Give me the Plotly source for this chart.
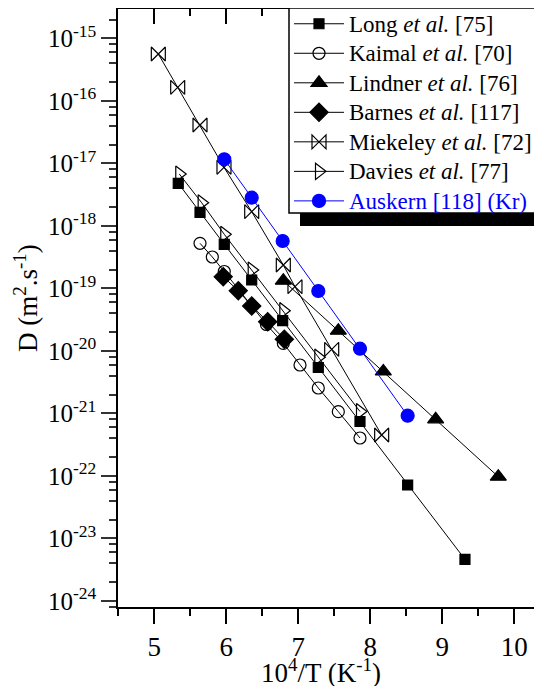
import plotly.graph_objects as go

# ---- data (x = 10^4/T, y = D in m^2/s) ----
long_x = [5.333, 5.635, 5.972, 6.353, 6.783, 7.278, 7.857, 8.519, 9.315]
long_y = [4.79e-18, 1.644e-18, 5.06e-19, 1.358e-19, 3.03e-20, 5.41e-21, 7.40e-22, 7.13e-23, 4.61e-24]

kaimal_x = [5.635, 5.806, 5.972, 6.558, 6.792, 7.024, 7.278, 7.556, 7.857]
kaimal_y = [5.25e-19, 3.17e-19, 1.858e-19, 2.64e-20, 1.318e-20, 5.93e-21, 2.54e-21, 1.062e-21, 4.03e-22]

lindner_x = [6.792, 7.556, 8.181, 8.908, 9.778]
lindner_y = [1.324e-19, 2.10e-20, 4.67e-21, 8.02e-22, 9.68e-23]

barnes_x = [5.958, 6.167, 6.353, 6.575, 6.806]
barnes_y = [1.535e-19, 9.16e-20, 5.21e-20, 2.92e-20, 1.528e-20]

miek_x = [5.056, 5.325, 5.635, 5.968, 6.353, 6.792, 6.954, 7.464, 8.158]
miek_y = [5.61e-16, 1.644e-16, 4.10e-17, 8.63e-18, 1.683e-18, 2.36e-19, 1.062e-19, 1.057e-20, 4.50e-22]

davies_x = [5.347, 5.658, 5.972, 6.353, 6.792, 7.278, 7.857]
davies_y = [6.75e-18, 2.34e-18, 7.31e-19, 1.963e-19, 4.39e-20, 7.91e-21, 1.069e-21]

ausk_x = [5.972, 6.353, 6.783, 7.278, 7.857, 8.519]
ausk_y = [1.159e-17, 2.82e-18, 5.71e-19, 9.06e-20, 1.081e-20, 9.16e-22]

x_ticks = [5, 6, 7, 8, 9, 10]
y_exps = list(range(-15, -25, -1))

FONT = "Liberation Serif"
BLUE = "#0000FF"

fig = go.Figure()

def label(txt, color="black"):
    return "<span style='font-size:23px;color:%s'>%s</span>" % (color, txt)

def add(name, xs, ys, symbol, size, color="black", lw=1.0):
    fig.add_trace(go.Scatter(
        x=xs, y=ys, mode="lines+markers", name=name,
        line=dict(color=color, width=lw),
        marker=dict(symbol=symbol, size=size, color=color,
                    line=dict(color=color, width=1.2)),
    ))

add(label("Long <i>et al.</i> [75]"), long_x, long_y, "square", 10)
add(label("Kaimal <i>et al.</i> [70]"), kaimal_x, kaimal_y, "circle-open", 12)
add(label("Lindner <i>et al.</i> [76]"), lindner_x, lindner_y, "triangle-up", 14)
add(label("Barnes <i>et al.</i> [117]"), barnes_x, barnes_y, "diamond", 14)
add(label("Miekeley <i>et al.</i> [72]"), miek_x, miek_y, "bowtie-open", 14)
add(label("Davies <i>et al.</i> [77]"), davies_x, davies_y, "triangle-right-open", 14)
add(label("Auskern [118] (Kr)", BLUE), ausk_x, ausk_y, "circle", 13, color=BLUE)

# page geometry (the page body adds an 8 px margin around the figure)
PAGE_W, PAGE_H, OFF = 542, 686, 8
W, H = PAGE_W - OFF, PAGE_H - OFF
PL, PT, PR, PB = 118, 9, 542, 607          # plot area in page pixels
L, T, R, B = PL - OFF, PT - OFF, OFF + W - PR, OFF + H - PB
pw, ph = PR - PL, PB - PT

def px(xp):
    return (xp - PL) / pw

def py(yp):
    return (PB - yp) / ph

xr = [4.496, 10.385]
yr = [-24.099, -14.531]

y_major = [10.0 ** e for e in y_exps]
y_minor = [m * 10.0 ** e for e in range(-25, -13) for m in (2, 4, 6, 8)]
y_text = ["10<sup>%d</sup>" % e for e in y_exps]
x_minor = [4.5 + i for i in range(7)]

fig.update_layout(
    width=W, height=H,
    margin=dict(l=L, r=R, t=T, b=B, pad=0, autoexpand=False),
    paper_bgcolor="white", plot_bgcolor="white",
    font=dict(family=FONT, color="black"),
    showlegend=True,
    legend=dict(
        x=px(289), y=py(4), xanchor="left", yanchor="top",
        bgcolor="rgba(0,0,0,0)", borderwidth=0,
        font=dict(family=FONT, size=20.4, color="black"),
        itemwidth=50,
    ),
    xaxis=dict(
        range=xr, showgrid=False, zeroline=False, automargin=False,
        showline=True, linecolor="black", linewidth=1.5,
        ticks="outside", ticklen=15, tickwidth=1.5, tickcolor="black",
        tickvals=x_ticks, ticktext=[str(v) for v in x_ticks],
        tickfont=dict(family=FONT, size=27),
        minor=dict(tickvals=x_minor, ticks="outside", ticklen=7, tickwidth=1.5, tickcolor="black"),
    ),
    xaxis2=dict(
        range=xr, overlaying="x", side="top", anchor="y", showgrid=False, zeroline=False,
        automargin=False,
        showline=True, linecolor="black", linewidth=1.5,
        ticks="inside", ticklen=15, tickwidth=1.5, tickcolor="black",
        tickvals=x_ticks, showticklabels=False,
        minor=dict(tickvals=x_minor, ticks="inside", ticklen=7, tickwidth=1.5, tickcolor="black"),
    ),
    yaxis=dict(
        type="log", range=yr, showgrid=False, zeroline=False, automargin=False,
        showline=True, linecolor="black", linewidth=1.5,
        ticks="outside", ticklen=15, tickwidth=1.5, tickcolor="#333333",
        tickvals=y_major, ticktext=y_text,
        tickfont=dict(family=FONT, size=25),
        minor=dict(tickvals=y_minor, ticks="outside", ticklen=7, tickwidth=1.5, tickcolor="#333333"),
    ),
    yaxis2=dict(
        type="log", range=yr, overlaying="y", side="right", anchor="x", automargin=False,
        showgrid=False, zeroline=False, showline=False,
        ticks="inside", ticklen=7, tickwidth=1.5, tickcolor="#333333",
        tickvals=y_major, showticklabels=False,
    ),
    annotations=[
        dict(text="10<sup>4</sup>/T (K<sup>-1</sup>)", xref="paper", yref="paper",
             x=px(321), y=py(671), xanchor="center", yanchor="middle",
             showarrow=False, font=dict(family=FONT, size=27)),
        dict(text="D (m<sup>2</sup>.s<sup>-1</sup>)", xref="paper", yref="paper",
             x=px(26), y=py(298), xanchor="center", yanchor="middle", textangle=-90,
             showarrow=False, font=dict(family=FONT, size=27)),
    ],
    shapes=[
        # legend drop shadow
        dict(type="rect", xref="paper", yref="paper",
             x0=px(300), x1=px(552), y0=py(226), y1=py(20),
             fillcolor="black", line=dict(width=0), layer="above"),
        # legend frame
        dict(type="rect", xref="paper", yref="paper",
             x0=px(289), x1=px(537), y0=py(213), y1=py(8),
             fillcolor="white", line=dict(color="black", width=1.5), layer="above"),
    ],
)

# invisible helper so the top/right mirror axes are drawn
fig.add_trace(go.Scatter(x=[], y=[], xaxis="x2", yaxis="y2", showlegend=False, hoverinfo="skip"))

fig.write_html("out.html")
